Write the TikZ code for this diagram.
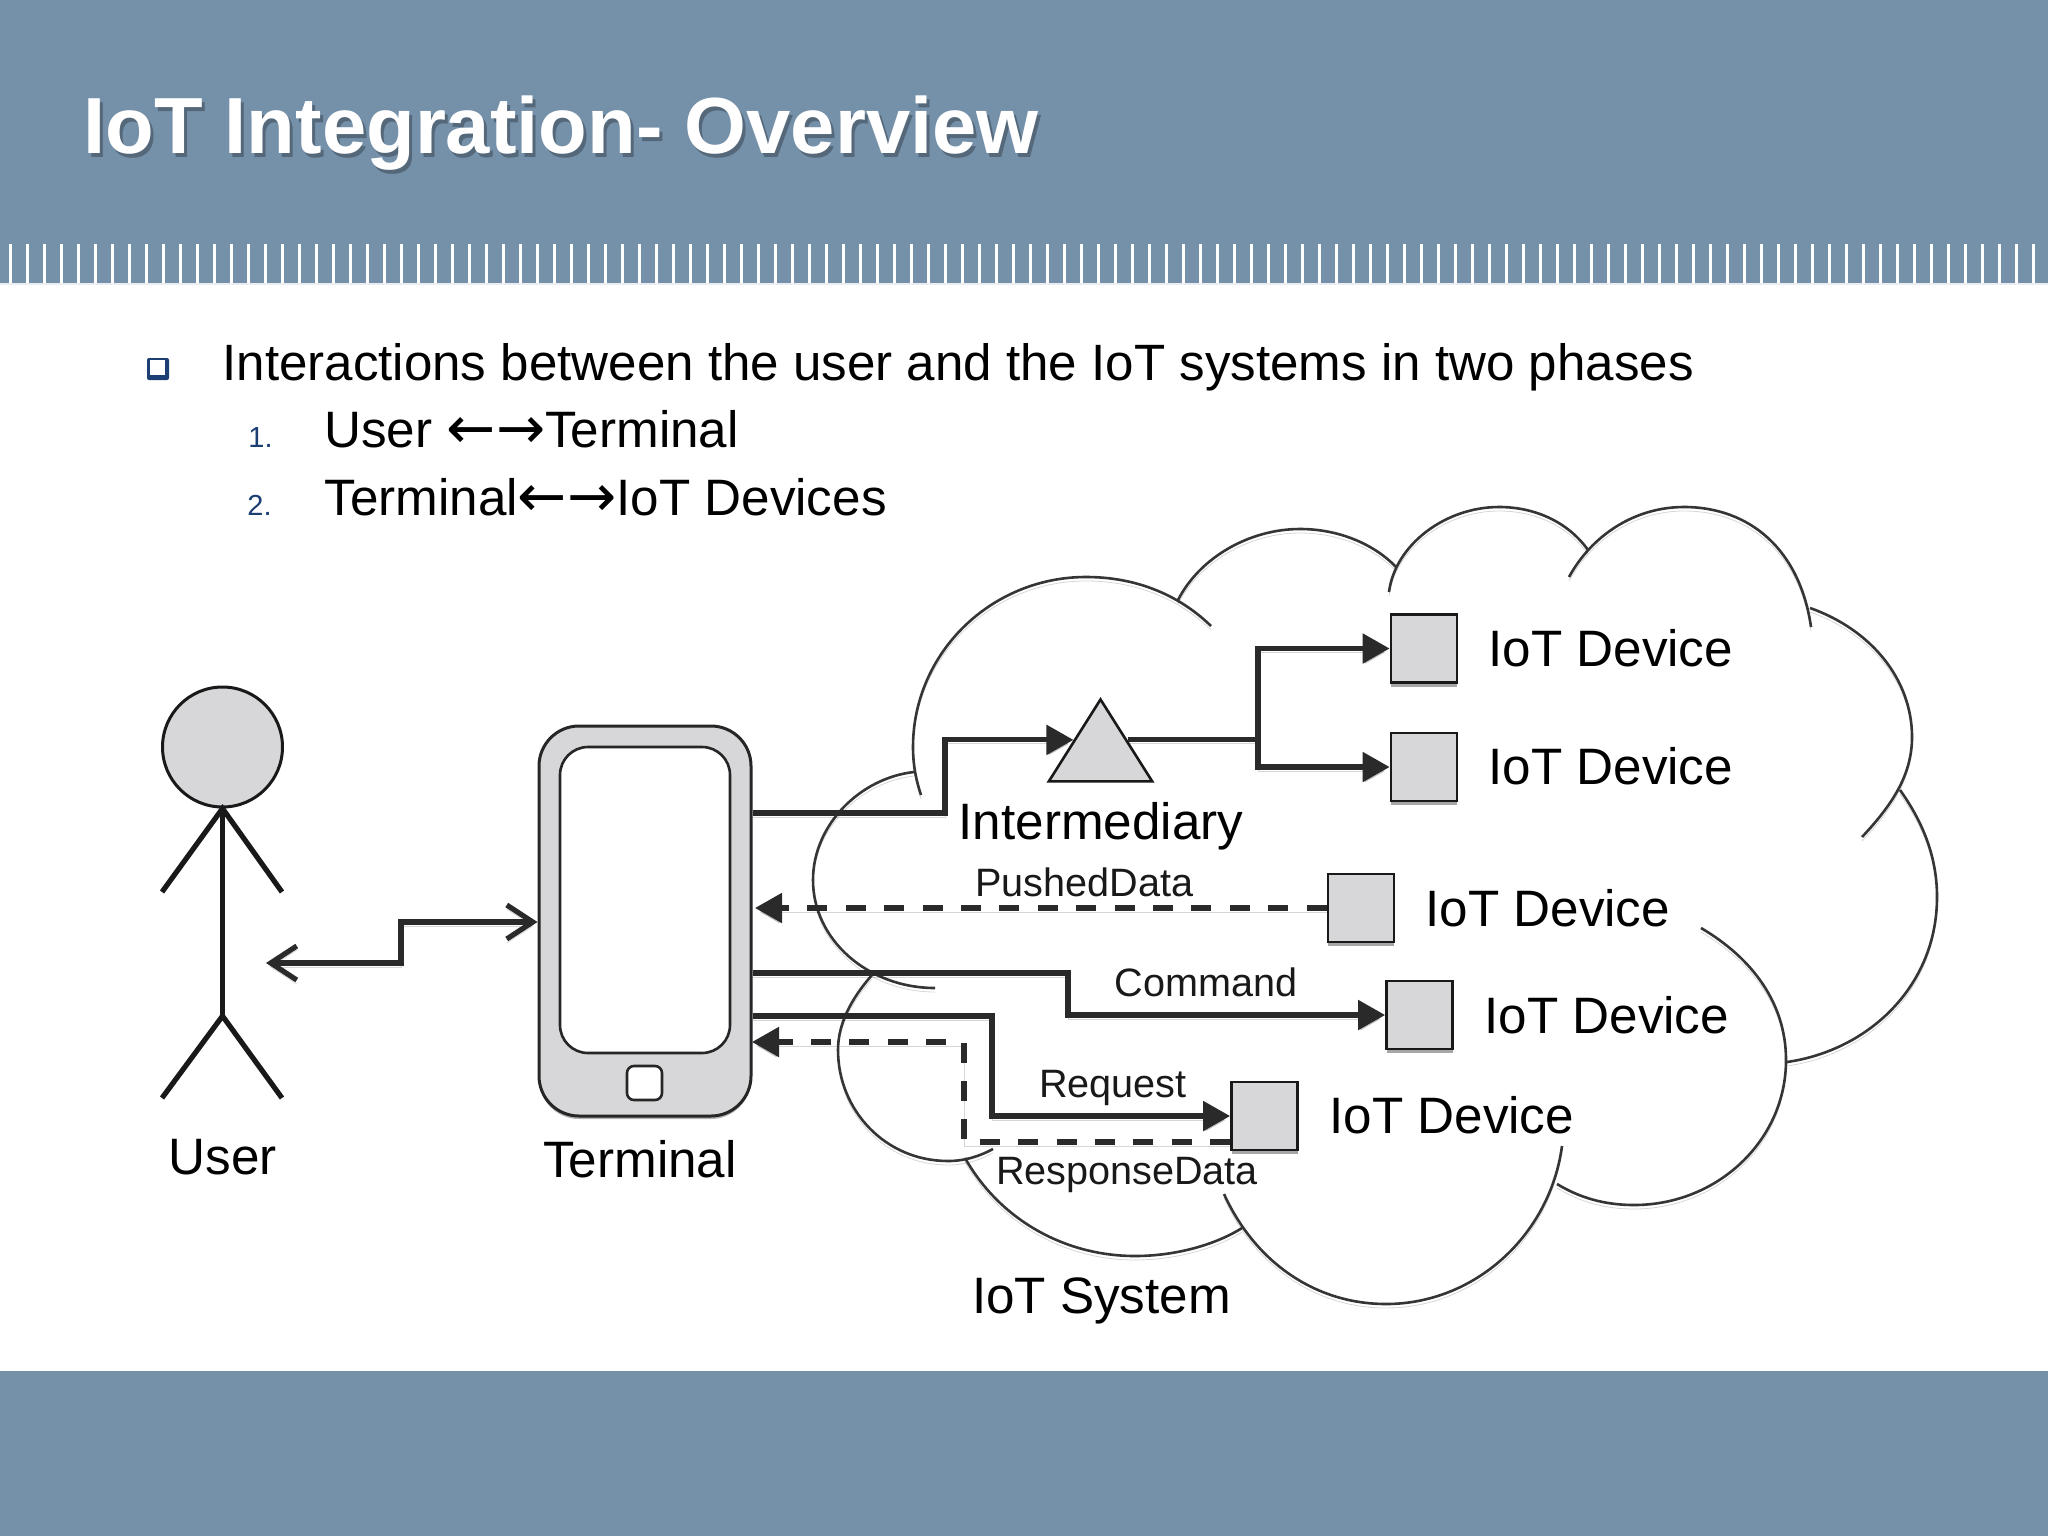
\documentclass[tikz,border=0pt]{standalone}
\usepackage{fontspec}
\setmainfont{Liberation Sans}
\newfontfamily\arrowfont{DejaVu Sans}
\usetikzlibrary{arrows.meta,shapes.geometric}
\definecolor{band}{HTML}{7590A9}
\definecolor{boxgrey}{HTML}{D7D7D9}
\definecolor{ink}{HTML}{2A2A2A}
\definecolor{navy}{HTML}{1B3F73}
\newcommand{\fsz}[1]{\fontsize{#1pt}{#1pt}\selectfont}
\newcommand{\bigarrows}{{\arrowfont\fontsize{29.4pt}{29.4pt}\selectfont\raisebox{-0.6pt}{←→}}}
\tikzset{
  softshadow/.style={preaction={draw=black,opacity=.16,transform canvas={yshift=-2pt}}},
  lobe/.style={draw=ink!95,line width=1.3pt,softshadow},
  txt/.style={inner sep=0pt,anchor=base,text=black,font=\fsz{25.6}},
  lefttxt/.style={txt,anchor=base west},
  small/.style={inner sep=0pt,anchor=base,text=black!90,font=\fsz{19.8}},
  device/.style={draw=black!90,line width=1.4pt,fill=boxgrey,minimum width=33pt,minimum height=34pt,inner sep=0pt,
     preaction={fill=black,opacity=.35,transform canvas={yshift=-2pt}}},
  flow/.style={draw=ink,line width=2.6pt,softshadow},
  tip/.style={-{Triangle[length=13.5pt,width=14.5pt]}},
  dashedflow/.style={flow,dash pattern=on 10pt off 9.2pt},
  stick/.style={draw=black!90,line width=2.6pt},
}
\begin{document}
\begin{tikzpicture}[x=0.5pt,y=-0.5pt]
\useasboundingbox (0,0) rectangle (2048,1536);
\fill[white] (0,0) rectangle (2048,1536);
% bands
\fill[band] (0,0) rectangle (2048,284);
\fill[band] (0,1371) rectangle (2048,1536);
\foreach \k in {0,...,120} \fill[white] ({9+17*\k},244) rectangle ({12+17*\k},284);
\fill[white!85!band] (0,283) rectangle (2048,285);
% title
\node[inner sep=0pt,anchor=base west,text=white,font=\bfseries\fsz{39.8}] (title) at (83,153)
  {\rlap{\raisebox{-2pt}{\hspace{1.5pt}\textcolor{band!72!black}{IoT Integration- Overview}}}IoT Integration- Overview};
% bullet list
\fill[navy,rounded corners=1pt] (147,358) rectangle (169,380);
\fill[white] (149.5,360) rectangle (165,375);
\node[inner sep=0pt,anchor=base west,text=black,font=\fsz{25.55}] (l1) at (222,380) {Interactions between the user and the IoT systems in two phases};
\node[inner sep=0pt,anchor=base west,text=navy,font=\fsz{14.5}] (n1) at (248,447) {1.};
\node[lefttxt] (l2) at (324,447) {User \bigarrows Terminal};
\node[inner sep=0pt,anchor=base west,text=navy,font=\fsz{14.5}] (n2) at (247,515) {2.};
\node[lefttxt] (l3) at (324,515) {Terminal\bigarrows IoT Devices};
% cloud lobes
\draw[lobe] (921,795) .. controls (916,780) and (913,765) .. (913,747) .. controls (913,653) and (991,577) .. (1086,577) .. controls (1135,577) and (1178,594) .. (1211,626);
\draw[lobe] (1178,600) .. controls (1200,557) and (1250,529) .. (1300,529) .. controls (1340,529) and (1375,545) .. (1396,567);
\draw[lobe] (914,772) .. controls (860,778) and (813,825) .. (813,880) .. controls (813,940) and (868,988) .. (935,988);
\draw[lobe] (872,975) .. controls (850,1000) and (838,1025) .. (838,1050) .. controls (838,1110) and (885,1161) .. (948,1161) .. controls (965,1161) and (980,1156) .. (993,1149);
\draw[lobe] (965,1158) .. controls (1000,1220) and (1065,1256) .. (1135,1256) .. controls (1175,1256) and (1215,1245) .. (1242,1228);
\draw[lobe] (1224,1194) .. controls (1255,1262) and (1315,1304) .. (1386,1304) .. controls (1475,1304) and (1550,1235) .. (1562,1146);
\draw[lobe] (1557,1184) .. controls (1580,1198) and (1605,1205) .. (1634,1205) .. controls (1718,1205) and (1786,1140) .. (1786,1060) .. controls (1786,1003) and (1752,958) .. (1701,928);
\draw[lobe] (1787,1062) .. controls (1870,1050) and (1937,985) .. (1937,897) .. controls (1937,860) and (1925,825) .. (1900,790);
\draw[lobe] (1862,837) .. controls (1892,805) and (1912,775) .. (1912,737) .. controls (1912,680) and (1872,630) .. (1810,608);
\draw[lobe] (1811,627) .. controls (1800,550) and (1750,507) .. (1684,507) .. controls (1635,507) and (1592,535) .. (1569,577);
\draw[lobe] (1389,592) .. controls (1395,545) and (1445,507) .. (1499,507) .. controls (1535,507) and (1568,522) .. (1588,550);
% user
\node[circle,draw=black!90,line width=1.5pt,fill=boxgrey,minimum size=60pt,inner sep=0pt] (head) at (222.5,747) {};
\coordinate (waist) at (222.5,1016);
\coordinate (handl) at (162,892);
\coordinate (handr) at (282,892);
\coordinate (footl) at (162,1098);
\coordinate (footr) at (282,1098);
\draw[stick] (handl) -- (head.south) -- (handr);
\draw[stick] (head.south) -- (waist);
\draw[stick] (footl) -- (waist) -- (footr);
\node[txt] (userlab) at (222.5,1174) {User};
% terminal
\node[draw=black!85,line width=1.5pt,fill=boxgrey,rounded corners=20pt,minimum width=106pt,minimum height=195pt,inner sep=0pt,
  preaction={fill=black,opacity=.3,rounded corners=20pt,transform canvas={yshift=-1.5pt}}] (term) at (645,921) {};
\node[draw=black!85,line width=1.3pt,fill=white,rounded corners=14pt,minimum width=85pt,minimum height=153pt,inner sep=0pt] (screen) at (645,900) {};
\node[draw=black!85,line width=1.3pt,fill=white,rounded corners=3.5pt,minimum width=17.5pt,minimum height=17pt,inner sep=0pt] (homebtn) at (644.5,1083) {};
\node[txt] (termlab) at (640,1177) {Terminal};
% intermediary
\node[isosceles triangle,shape border rotate=90,isosceles triangle apex angle=64.5,minimum height=41pt,inner sep=0pt,
  draw=black!90,line width=1.3pt,fill=boxgrey,anchor=apex] (tri) at (1100.5,697) {};
\node[txt] (trilab) at (1101,839) {Intermediary};
% devices
\node[device] (d1) at (1424,648.5) {};
\node[device] (d2) at (1424,767) {};
\node[device] (d3) at (1361,908) {};
\node[device] (d4) at (1419.5,1015) {};
\node[device] (d5) at (1264.5,1116) {};
\node[lefttxt] (d1lab) at (1488,666) {IoT Device};
\node[lefttxt] (d2lab) at (1488,784) {IoT Device};
\node[lefttxt] (d3lab) at (1425,926) {IoT Device};
\node[lefttxt] (d4lab) at (1484,1033) {IoT Device};
\node[lefttxt] (d5lab) at (1329,1133) {IoT Device};
\node[txt] (syslab) at (1101.5,1313) {IoT System};
% connector labels
\node[small] (pushed) at (1084.5,896) {PushedData};
\node[small] (command) at (1206,996) {Command};
\node[small] (request) at (1113,1097) {Request};
\node[small] (response) at (1127,1184) {ResponseData};
% connectors
\coordinate (uend) at (266,963);
\coordinate (ubend) at (401,963);
\coordinate (utop) at (401,922);
\draw[flow,{Straight Barb[length=13pt,width=17pt]}-{Straight Barb[length=13pt,width=17pt]}] (uend) -- (ubend) -- (utop) -- (utop -| term.west);
\coordinate (k1) at (945,813);
\draw[flow,tip] (term.east |- k1) -- (k1) |- (tri.left side);
\coordinate (br) at (1258,739);
\draw[flow] (tri.right side) -- (tri.right side -| br);
\draw[flow,tip] (tri.right side -| br) |- (d1.west);
\draw[flow,tip] (tri.right side -| br) |- (d2.west);
\coordinate (tp) at (755,908);
\draw[dashedflow,tip] (d3.west) -- (tp);
\coordinate (k2) at (1068,973);
\draw[flow,tip] (term.east |- k2) -- (k2) |- (d4.west);
\coordinate (k3) at (992,1016);
\draw[flow,tip] (term.east |- k3) -- (k3) |- (d5.west);
\coordinate (k4) at (964,1142);
\coordinate (k5) at (964,1042);
\coordinate (tq) at (752,1042);
\draw[dashedflow,tip] (d5.west |- k4) -- (k4) -- (k5) -- (tq);
\end{tikzpicture}
\end{document}
